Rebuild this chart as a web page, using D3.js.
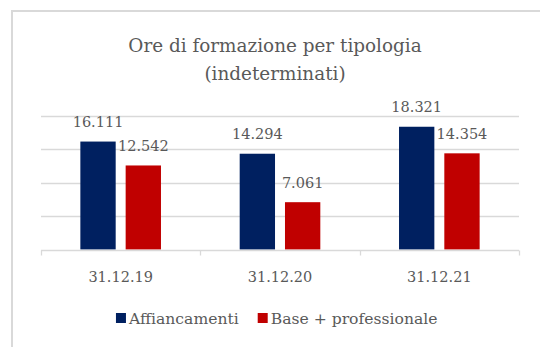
<!DOCTYPE html>
<html>
<head>
<meta charset="utf-8">
<script src="https://cdn.jsdelivr.net/npm/d3@7"></script>
<style>
  html, body { margin: 0; padding: 0; background: #ffffff; }
  svg { display: block; }
  text { font-family: "DejaVu Serif", "Liberation Serif", serif; fill: #595959; }
</style>
</head>
<body>
<svg id="chart" width="540" height="347"></svg>
<script>
// Training hours by type, permanent staff
const categories = ["31.12.19", "31.12.20", "31.12.21"];
const seriesNames = ["Affiancamenti", "Base + professionale"];
const affiancamenti = [16111, 14294, 18321];
const baseProfessionale = [12542, 7061, 14354];
const valueLabels = [["16.111", "14.294", "18.321"], ["12.542", "7.061", "14.354"]];
const yTicks = [0, 5000, 10000, 15000, 20000];
const titleLines = ["Ore di formazione per tipologia", "(indeterminati)"];
const colors = ["#002060", "#C00000"];

const seriesValues = [affiancamenti, baseProfessionale];

const svg = d3.select("#chart");

// chart area frame
svg.append("rect")
  .attr("x", 12).attr("y", 11)
  .attr("width", 560).attr("height", 360)
  .attr("fill", "#ffffff")
  .attr("stroke", "#d9d9d9")
  .attr("stroke-width", 2);

const plot = { left: 41, right: 519, top: 115.5, bottom: 249.5 };

const x0 = d3.scaleBand()
  .domain(categories)
  .range([plot.left, plot.right])
  .paddingInner(0.494)
  .paddingOuter(0.247);

const x1 = d3.scaleBand()
  .domain(seriesNames)
  .range([0, x0.bandwidth()])
  .paddingInner(0.22)
  .paddingOuter(0);

const y = d3.scaleLinear()
  .domain([0, d3.max(yTicks)])
  .range([plot.bottom, plot.top]);

// horizontal gridlines
svg.append("g")
  .selectAll("line")
  .data(yTicks.filter(t => t > 0))
  .join("line")
  .attr("x1", plot.left).attr("x2", plot.right)
  .attr("y1", d => Math.round(y(d)) + 0.5)
  .attr("y2", d => Math.round(y(d)) + 0.5)
  .attr("stroke", "#d9d9d9")
  .attr("stroke-width", 1.3);

// title
svg.append("text")
  .attr("x", 275)
  .attr("y", 51.5)
  .attr("text-anchor", "middle")
  .style("font-size", "18.4px")
  .selectAll("tspan")
  .data(titleLines)
  .join("tspan")
  .attr("x", 275)
  .attr("dy", (d, i) => i === 0 ? 0 : 28)
  .text(d => d);

// bars
const groups = svg.append("g")
  .selectAll("g")
  .data(categories)
  .join("g")
  .attr("transform", d => `translate(${x0(d)},0)`);

const barData = (c, ci) => seriesNames.map((s, si) => ({
  series: s, si, ci, value: seriesValues[si][ci], label: valueLabels[si][ci]
}));

groups.selectAll("rect")
  .data((c, ci) => barData(c, ci))
  .join("rect")
  .attr("x", d => x1(d.series))
  .attr("y", d => y(d.value))
  .attr("width", x1.bandwidth())
  .attr("height", d => y(0) - y(d.value))
  .attr("fill", d => colors[d.si]);

groups.selectAll("text")
  .data((c, ci) => barData(c, ci))
  .join("text")
  .attr("x", d => x1(d.series) + x1.bandwidth() / 2)
  .attr("y", d => y(d.value) - 14.5)
  .attr("text-anchor", "middle")
  .style("font-size", "14.5px")
  .text(d => d.label);

// category axis
const xAxis = d3.axisBottom(x0).tickSize(0).tickPadding(0);
const axisG = svg.append("g")
  .attr("transform", `translate(0,${Math.round(plot.bottom) + 0.5})`)
  .call(xAxis);
axisG.select(".domain").remove();
axisG.selectAll("text")
  .attr("dy", null)
  .attr("y", 31.5)
  .attr("fill", "#595959")
  .style("font-size", "14.5px")
  .style("font-family", "\"DejaVu Serif\", serif");

axisG.append("line")
  .attr("x1", plot.left).attr("x2", plot.right)
  .attr("y1", 0).attr("y2", 0)
  .attr("stroke", "#d9d9d9").attr("stroke-width", 1.3);

// boundary tick marks between categories
const boundaries = categories.map(c => x0(c) - x0.step() * x0.paddingInner() / 2)
  .concat([plot.right]);
axisG.selectAll("line.tick-mark")
  .data(boundaries)
  .join("line")
  .attr("class", "tick-mark")
  .attr("x1", d => Math.round(d) + 0.5).attr("x2", d => Math.round(d) + 0.5)
  .attr("y1", 0).attr("y2", 5)
  .attr("stroke", "#d9d9d9").attr("stroke-width", 1.3);

// legend
const legend = svg.append("g");
const items = legend.selectAll("g")
  .data(seriesNames)
  .join("g");
items.append("rect")
  .attr("width", 10).attr("height", 10)
  .attr("y", -10.5)
  .attr("fill", (d, i) => colors[i]);
items.append("text")
  .attr("x", 13)
  .attr("y", 0)
  .style("font-size", "15.6px")
  .text(d => d);

let offset = 0;
const itemGap = 19;
items.each(function () {
  const w = this.getBBox().width;
  d3.select(this).attr("data-w", w);
});
const widths = items.nodes().map(n => +n.getAttribute("data-w"));
const total = d3.sum(widths) + itemGap * (widths.length - 1);
const startX = 276.7 - total / 2;
items.attr("transform", (d, i) => {
  const tx = startX + d3.sum(widths.slice(0, i)) + itemGap * i;
  return `translate(${tx},323.5)`;
});
</script>
</body>
</html>
